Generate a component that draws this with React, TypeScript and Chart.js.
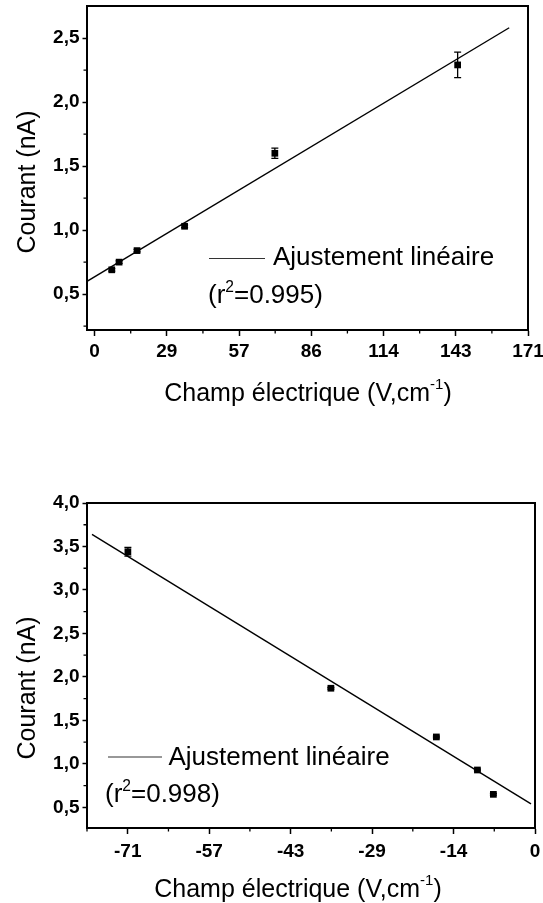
import React, { useEffect, useRef } from "react";
import { Chart, registerables } from "chart.js";

Chart.register(...registerables);

// ---------------- Top panel (positive field) ----------------
const TOP_FIELD = [6.8, 9.7, 16.8, 35.6, 71.3, 143.6];
const TOP_CURRENT = [0.69, 0.75, 0.84, 1.03, 1.6, 2.29];
const TOP_ERROR = [0.01, 0.01, 0.01, 0.01, 0.04, 0.1];
const TOP_FIT_FIELD = [-3, 164];
const TOP_FIT_CURRENT = [0.6, 2.58];
const TOP_X_TICKS = [0, 28.571, 57.143, 85.714, 114.286, 142.857, 171.429];
const TOP_X_LABELS = ["0", "29", "57", "86", "114", "143", "171"];
const TOP_X_MINOR = [14.286, 42.857, 71.429, 100, 128.571, 157.143];
const TOP_Y_TICKS = [0.5, 1.0, 1.5, 2.0, 2.5];
const TOP_Y_LABELS = ["0,5", "1,0", "1,5", "2,0", "2,5"];
const TOP_Y_MINOR = [0.25, 0.75, 1.25, 1.75, 2.25];
const TOP_R2 = "0.995";

// ---------------- Bottom panel (negative field) ----------------
const BOT_FIELD = [-71.4, -35.8, -17.3, -10.1, -7.3];
const BOT_CURRENT = [3.44, 1.87, 1.31, 0.93, 0.65];
const BOT_ERROR = [0.05, 0.01, 0.01, 0.01, 0.01];
const BOT_FIT_FIELD = [-77.7, -0.7];
const BOT_FIT_CURRENT = [3.64, 0.54];
const BOT_X_TICKS = [-71.429, -57.143, -42.857, -28.571, -14.286, 0];
const BOT_X_LABELS = ["-71", "-57", "-43", "-29", "-14", "0"];
const BOT_X_MINOR = [-78.571, -64.286, -50, -35.714, -21.429, -7.143];
const BOT_Y_TICKS = [0.5, 1.0, 1.5, 2.0, 2.5, 3.0, 3.5, 4.0];
const BOT_Y_LABELS = ["0,5", "1,0", "1,5", "2,0", "2,5", "3,0", "3,5", "4,0"];
const BOT_Y_MINOR = [0.75, 1.25, 1.75, 2.25, 2.75, 3.25, 3.75];
const BOT_R2 = "0.998";

const Y_TITLE = "Courant (nA)";
const X_TITLE = "Champ électrique (V,cm";
const LEGEND_LABEL = "Ajustement linéaire";

const FONT = "'Liberation Sans', Arial, Helvetica, sans-serif";

type Seg = { t: string; sup?: boolean };

function drawRich(
  ctx: CanvasRenderingContext2D,
  segs: Seg[],
  x: number,
  y: number,
  size: number,
  align: "left" | "center",
  supRaise: number
) {
  const widths = segs.map((s) => {
    ctx.font = `${s.sup ? size * 0.6 : size}px ${FONT}`;
    return ctx.measureText(s.t).width;
  });
  const total = widths.reduce((a, b) => a + b, 0);
  let cx = align === "center" ? x - total / 2 : x;
  const base = y + size * 0.36;
  ctx.textAlign = "left";
  ctx.textBaseline = "alphabetic";
  segs.forEach((s, i) => {
    ctx.font = `${s.sup ? size * 0.6 : size}px ${FONT}`;
    ctx.fillText(s.t, cx, s.sup ? base - size * supRaise : base);
    cx += widths[i];
  });
}

interface PanelSpec {
  px: number[];
  py: number[];
  err: number[];
  fx: number[];
  fy: number[];
  xMin: number;
  xMax: number;
  yMin: number;
  yMax: number;
  xTicks: number[];
  xLabels: string[];
  xMinor: number[];
  yTicks: number[];
  yLabels: string[];
  yMinor: number[];
  r2: string;
  box: {
    padTop: number;
    padRight: number;
    yWidth: number;
    xHeight: number;
    xTickPad: number;
    yTickPad: number;
  };
  text: {
    yTitle: [number, number];
    xTitle: [number, number];
    legendLine: [number, number, number];
    legendText: [number, number];
    r2Text: [number, number];
  };
}

function makeConfig(s: PanelSpec): any {
  const decor = {
    id: "decor",
    beforeDatasetsDraw(chart: any) {
      const { ctx } = chart;
      const xs = chart.scales.x;
      const ys = chart.scales.y;
      ctx.save();
      ctx.strokeStyle = "#000";
      ctx.lineWidth = 1.3;
      s.px.forEach((xv, i) => {
        const e = s.err[i];
        if (!e) return;
        const px = xs.getPixelForValue(xv);
        const y1 = ys.getPixelForValue(s.py[i] + e);
        const y2 = ys.getPixelForValue(s.py[i] - e);
        ctx.beginPath();
        ctx.moveTo(px, y1);
        ctx.lineTo(px, y2);
        ctx.moveTo(px - 3.5, y1);
        ctx.lineTo(px + 3.5, y1);
        ctx.moveTo(px - 3.5, y2);
        ctx.lineTo(px + 3.5, y2);
        ctx.stroke();
      });
      ctx.restore();
    },
    afterDraw(chart: any) {
      const { ctx, chartArea } = chart;
      const xs = chart.scales.x;
      const ys = chart.scales.y;
      const { left, right, top, bottom } = chartArea;
      ctx.save();
      // frame (top and right sides)
      ctx.strokeStyle = "#000";
      ctx.lineWidth = 2;
      ctx.beginPath();
      ctx.moveTo(left, top);
      ctx.lineTo(right, top);
      ctx.lineTo(right, bottom);
      ctx.stroke();
      // minor ticks
      ctx.lineWidth = 1.3;
      ctx.beginPath();
      s.xMinor.forEach((v) => {
        const p = xs.getPixelForValue(v);
        ctx.moveTo(p, bottom);
        ctx.lineTo(p, bottom + 3.5);
      });
      s.yMinor.forEach((v) => {
        if (v < s.yMin || v > s.yMax) return;
        const p = ys.getPixelForValue(v);
        ctx.moveTo(left - 3.5, p);
        ctx.lineTo(left, p);
      });
      ctx.stroke();

      ctx.fillStyle = "#000";
      // y title
      const [ytx, yty] = s.text.yTitle;
      ctx.save();
      ctx.translate(ytx, yty);
      ctx.rotate(-Math.PI / 2);
      ctx.font = `25px ${FONT}`;
      ctx.textAlign = "center";
      ctx.textBaseline = "alphabetic";
      ctx.fillText(Y_TITLE, 0, 25 * 0.36);
      ctx.restore();
      // x title
      const [xtx, xty] = s.text.xTitle;
      drawRich(
        ctx,
        [{ t: X_TITLE }, { t: "-1", sup: true }, { t: ")" }],
        xtx,
        xty,
        25,
        "center",
        0.5
      );
      // legend
      const [lx1, lx2, ly] = s.text.legendLine;
      ctx.strokeStyle = "#333";
      ctx.lineWidth = 1.2;
      ctx.beginPath();
      ctx.moveTo(lx1, ly);
      ctx.lineTo(lx2, ly);
      ctx.stroke();
      const [ltx, lty] = s.text.legendText;
      drawRich(ctx, [{ t: LEGEND_LABEL }], ltx, lty, 26, "left", 0);
      const [rx, ry] = s.text.r2Text;
      drawRich(
        ctx,
        [{ t: "(r" }, { t: "2", sup: true }, { t: "=" + s.r2 + ")" }],
        rx,
        ry,
        26,
        "left",
        0.45
      );
      ctx.restore();
    },
  };

  const tickFont = { family: FONT, size: 19, weight: "bold" as const };

  return {
    type: "scatter",
    data: {
      datasets: [
        {
          label: "Mesures",
          data: s.px.map((x, i) => ({ x, y: s.py[i] })),
          pointStyle: "rect",
          pointRadius: 4.75,
          backgroundColor: "#000",
          borderColor: "#000",
          borderWidth: 0,
          showLine: false,
          order: 1,
        },
        {
          label: LEGEND_LABEL,
          data: s.fx.map((x, i) => ({ x, y: s.fy[i] })),
          showLine: true,
          pointRadius: 0,
          borderColor: "#000",
          borderWidth: 1.4,
          fill: false,
          order: 2,
        },
      ],
    },
    options: {
      responsive: false,
      animation: false,
      devicePixelRatio: 1,
      events: [],
      layout: {
        padding: { left: 0, top: s.box.padTop, right: s.box.padRight, bottom: 0 },
      },
      plugins: {
        legend: { display: false },
        tooltip: { enabled: false },
        title: { display: false },
      },
      scales: {
        x: {
          type: "linear",
          position: "bottom",
          min: s.xMin,
          max: s.xMax,
          afterBuildTicks: (sc: any) => {
            sc.ticks = s.xTicks.map((v) => ({ value: v }));
          },
          afterFit: (sc: any) => {
            sc.height = s.box.xHeight;
            sc.paddingLeft = 0;
            sc.paddingRight = 0;
          },
          ticks: {
            autoSkip: false,
            maxRotation: 0,
            minRotation: 0,
            padding: s.box.xTickPad,
            color: "#000",
            font: tickFont,
            callback: (_v: any, i: number) => s.xLabels[i],
          },
          grid: {
            drawOnChartArea: false,
            drawTicks: true,
            tickLength: 6,
            tickWidth: 1.5,
            tickColor: "#000",
          },
          border: { display: true, color: "#000", width: 2 },
        },
        y: {
          type: "linear",
          position: "left",
          min: s.yMin,
          max: s.yMax,
          afterBuildTicks: (sc: any) => {
            sc.ticks = s.yTicks.map((v) => ({ value: v }));
          },
          afterFit: (sc: any) => {
            sc.width = s.box.yWidth;
            sc.paddingTop = 0;
            sc.paddingBottom = 0;
          },
          ticks: {
            autoSkip: false,
            padding: s.box.yTickPad,
            color: "#000",
            font: tickFont,
            callback: (_v: any, i: number) => s.yLabels[i],
          },
          grid: {
            drawOnChartArea: false,
            drawTicks: true,
            tickLength: 4.5,
            tickWidth: 1.5,
            tickColor: "#000",
          },
          border: { display: true, color: "#000", width: 2 },
        },
      },
    },
    plugins: [decor],
  };
}

const TOP_SPEC: PanelSpec = {
  px: TOP_FIELD,
  py: TOP_CURRENT,
  err: TOP_ERROR,
  fx: TOP_FIT_FIELD,
  fy: TOP_FIT_CURRENT,
  xMin: -3,
  xMax: 171.429,
  yMin: 0.22,
  yMax: 2.75,
  xTicks: TOP_X_TICKS,
  xLabels: TOP_X_LABELS,
  xMinor: TOP_X_MINOR,
  yTicks: TOP_Y_TICKS,
  yLabels: TOP_Y_LABELS,
  yMinor: TOP_Y_MINOR,
  r2: TOP_R2,
  box: { padTop: 6, padRight: 15, yWidth: 87, xHeight: 90, xTickPad: 4.6, yTickPad: 3 },
  text: {
    yTitle: [26, 182],
    xTitle: [308, 392],
    legendLine: [209, 265, 258.5],
    legendText: [273, 256],
    r2Text: [208, 294],
  },
};

const BOT_SPEC: PanelSpec = {
  px: BOT_FIELD,
  py: BOT_CURRENT,
  err: BOT_ERROR,
  fx: BOT_FIT_FIELD,
  fy: BOT_FIT_CURRENT,
  xMin: -78.571,
  xMax: 0,
  yMin: 0.263,
  yMax: 4.0,
  xTicks: BOT_X_TICKS,
  xLabels: BOT_X_LABELS,
  xMinor: BOT_X_MINOR,
  yTicks: BOT_Y_TICKS,
  yLabels: BOT_Y_LABELS,
  yMinor: BOT_Y_MINOR,
  r2: BOT_R2,
  box: { padTop: 63, padRight: 8, yWidth: 87, xHeight: 75, xTickPad: 6, yTickPad: 3 },
  text: {
    yTitle: [26, 248],
    xTitle: [298, 448],
    legendLine: [108, 162, 317],
    legendText: [168.5, 316],
    r2Text: [105, 353],
  },
};

function Panel({ spec, top, height }: { spec: PanelSpec; top: number; height: number }) {
  const ref = useRef<HTMLCanvasElement | null>(null);
  useEffect(() => {
    if (!ref.current) return;
    const chart = new Chart(ref.current, makeConfig(spec));
    return () => chart.destroy();
  }, [spec]);
  return (
    <canvas
      ref={ref}
      width={543}
      height={height}
      style={{ position: "absolute", left: 0, top, width: 543, height, display: "block" }}
    />
  );
}

export default function App() {
  return (
    <div
      style={{
        position: "absolute",
        left: 0,
        top: 0,
        width: 543,
        height: 903,
        background: "#fff",
        overflow: "hidden",
      }}
    >
      <Panel spec={TOP_SPEC} top={0} height={420} />
      <Panel spec={BOT_SPEC} top={440} height={463} />
    </div>
  );
}
